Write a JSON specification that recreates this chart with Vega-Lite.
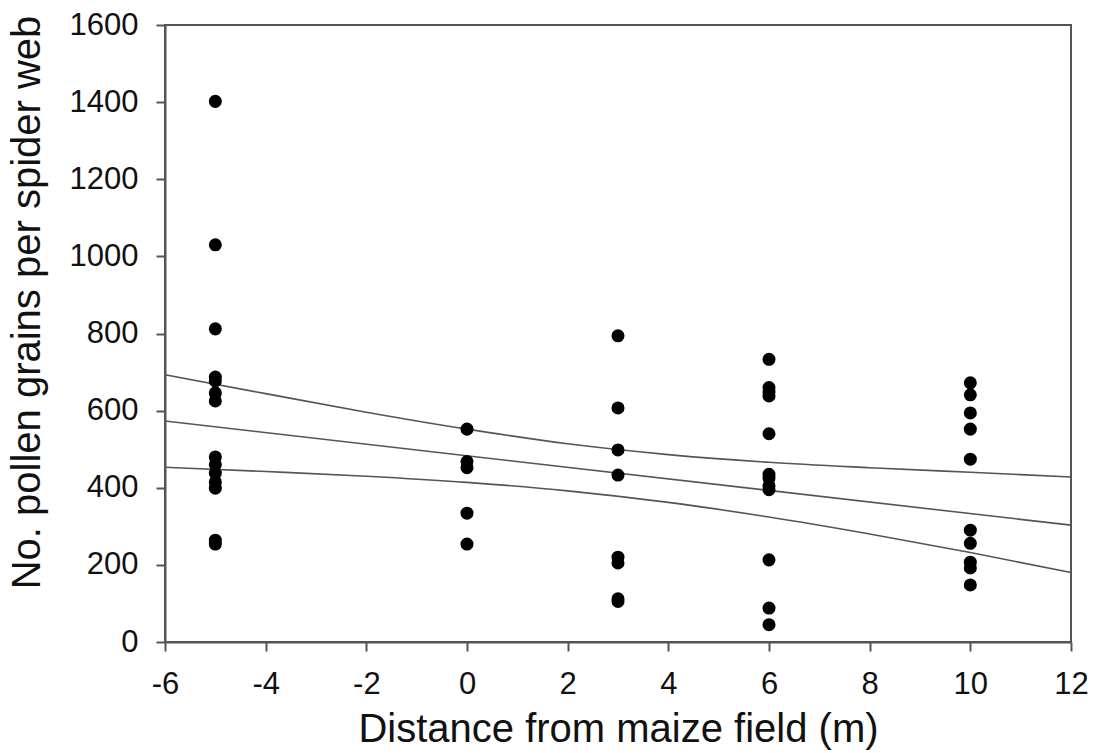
{
  "$schema": "https://vega.github.io/schema/vega-lite/v6.json",
  "width": 906,
  "height": 617,
  "autosize": {"type": "none"},
  "padding": {"left": 165, "top": 25, "right": 27, "bottom": 111},
  "background": "white",
  "config": {
    "view": {"stroke": "#555", "strokeWidth": 2},
    "font": "Liberation Sans",
    "axis": {
      "grid": false,
      "domainColor": "#555",
      "domainWidth": 2,
      "tickColor": "#555",
      "tickWidth": 2,
      "tickSize": 9,
      "labelPadding": 18,
      "labelFontSize": 31,
      "labelColor": "#111",
      "labelFlush": false,
      "labelOverlap": false,
      "titleFontSize": 40,
      "titleFontWeight": "normal",
      "titleColor": "#111"
    }
  },
  "datasets": {
    "points": [
      {"distance": -5, "pollen": 1402}, {"distance": -5, "pollen": 1030}, {"distance": -5, "pollen": 812},
      {"distance": -5, "pollen": 687}, {"distance": -5, "pollen": 677}, {"distance": -5, "pollen": 646},
      {"distance": -5, "pollen": 625}, {"distance": -5, "pollen": 480}, {"distance": -5, "pollen": 460},
      {"distance": -5, "pollen": 438}, {"distance": -5, "pollen": 415}, {"distance": -5, "pollen": 399},
      {"distance": -5, "pollen": 264}, {"distance": -5, "pollen": 254},
      {"distance": 0, "pollen": 552}, {"distance": 0, "pollen": 468}, {"distance": 0, "pollen": 452},
      {"distance": 0, "pollen": 334}, {"distance": 0, "pollen": 254},
      {"distance": 3, "pollen": 794}, {"distance": 3, "pollen": 607}, {"distance": 3, "pollen": 498},
      {"distance": 3, "pollen": 433}, {"distance": 3, "pollen": 220}, {"distance": 3, "pollen": 205},
      {"distance": 3, "pollen": 112}, {"distance": 3, "pollen": 105},
      {"distance": 6, "pollen": 733}, {"distance": 6, "pollen": 660}, {"distance": 6, "pollen": 648},
      {"distance": 6, "pollen": 638}, {"distance": 6, "pollen": 540}, {"distance": 6, "pollen": 435},
      {"distance": 6, "pollen": 425}, {"distance": 6, "pollen": 405}, {"distance": 6, "pollen": 395},
      {"distance": 6, "pollen": 213}, {"distance": 6, "pollen": 88}, {"distance": 6, "pollen": 45},
      {"distance": 10, "pollen": 672}, {"distance": 10, "pollen": 641}, {"distance": 10, "pollen": 594},
      {"distance": 10, "pollen": 552}, {"distance": 10, "pollen": 474}, {"distance": 10, "pollen": 290},
      {"distance": 10, "pollen": 256}, {"distance": 10, "pollen": 207}, {"distance": 10, "pollen": 192},
      {"distance": 10, "pollen": 148}
    ],
    "lines": [
      {"distance": -6, "pollen": 693, "series": "upper"}, {"distance": -4, "pollen": 644, "series": "upper"},
      {"distance": -2, "pollen": 596, "series": "upper"}, {"distance": 0, "pollen": 552, "series": "upper"},
      {"distance": 2, "pollen": 514, "series": "upper"}, {"distance": 4, "pollen": 486, "series": "upper"},
      {"distance": 6, "pollen": 466, "series": "upper"}, {"distance": 8, "pollen": 452, "series": "upper"},
      {"distance": 10, "pollen": 440, "series": "upper"}, {"distance": 12, "pollen": 428, "series": "upper"},
      {"distance": -6, "pollen": 573, "series": "fit"}, {"distance": 12, "pollen": 303, "series": "fit"},
      {"distance": -6, "pollen": 453, "series": "lower"}, {"distance": -4, "pollen": 442, "series": "lower"},
      {"distance": -2, "pollen": 430, "series": "lower"}, {"distance": 0, "pollen": 414, "series": "lower"},
      {"distance": 2, "pollen": 392, "series": "lower"}, {"distance": 4, "pollen": 362, "series": "lower"},
      {"distance": 6, "pollen": 324, "series": "lower"}, {"distance": 8, "pollen": 280, "series": "lower"},
      {"distance": 10, "pollen": 232, "series": "lower"}, {"distance": 12, "pollen": 180, "series": "lower"}
    ]
  },
  "layer": [
    {
      "data": {"name": "lines"},
      "mark": {"type": "line", "color": "#555", "strokeWidth": 1.6, "interpolate": "monotone"},
      "encoding": {
        "x": {"field": "distance", "type": "quantitative"},
        "y": {"field": "pollen", "type": "quantitative"},
        "detail": {"field": "series"}
      }
    },
    {
      "data": {"name": "points"},
      "mark": {"type": "point", "filled": true, "shape": "circle", "color": "black", "opacity": 1, "size": 170},
      "encoding": {
        "x": {
          "field": "distance", "type": "quantitative",
          "scale": {"domain": [-6, 12], "nice": false, "zero": false},
          "axis": {"values": [-6, -4, -2, 0, 2, 4, 6, 8, 10, 12], "labelExpr": "'' + datum.value", "title": "Distance from maize field (m)", "titleY": 87, "titleBaseline": "middle"}
        },
        "y": {
          "field": "pollen", "type": "quantitative",
          "scale": {"domain": [0, 1600], "nice": false},
          "axis": {"values": [0, 200, 400, 600, 800, 1000, 1200, 1400, 1600], "labelExpr": "'' + datum.value", "title": "No. pollen grains per spider web", "titleX": -138, "titleY": 277, "titleBaseline": "middle", "titleAngle": -90}
        }
      }
    }
  ]
}
